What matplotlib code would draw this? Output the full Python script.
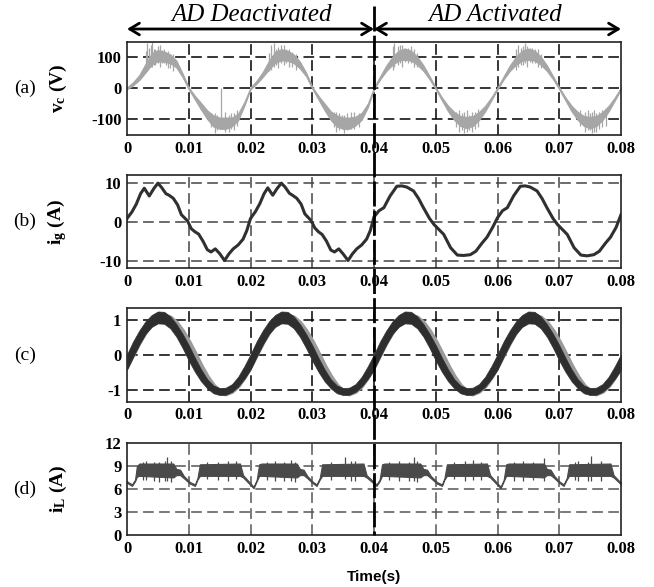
import numpy as np
import matplotlib
matplotlib.use('Agg')
import matplotlib.pyplot as plt
from matplotlib.lines import Line2D
from matplotlib.patches import FancyArrowPatch

plt.rcParams['font.family'] = 'Liberation Serif'
plt.rcParams['mathtext.fontset'] = 'custom'
plt.rcParams['mathtext.rm'] = 'Liberation Serif:bold'
plt.rcParams['mathtext.it'] = 'Liberation Serif:bold'
plt.rcParams['mathtext.bf'] = 'Liberation Serif:bold'
plt.rcParams['axes.unicode_minus'] = False

# time base in ms, one sample per ms
t_ms = np.arange(81)

# (a) capacitor voltage: band centre and half width of the switching noise
vc_mid = [0, 15, 35, 65, 95, 105, 102, 95, 78, 42,
          0, -30, -58, -85, -105, -112, -112, -108, -92, -50,
          0, 20, 45, 75, 100, 108, 105, 95, 75, 45,
          2, -30, -60, -88, -105, -112, -112, -105, -90, -55,
          0, 34, 65, 89, 105, 110, 105, 89, 65, 34,
          0, -34, -65, -89, -105, -110, -105, -89, -65, -34,
          0, 34, 65, 89, 105, 110, 105, 89, 65, 34,
          0, -34, -65, -89, -105, -110, -105, -89, -65, -34,
          0]
vc_half = [3, 5, 8, 14, 18, 18, 16, 14, 11, 6,
           3, 6, 11, 14, 18, 18, 18, 14, 11, 6,
           3, 5, 8, 14, 18, 18, 16, 14, 11, 6,
           3, 6, 11, 14, 18, 18, 18, 14, 11, 6,
           3, 5, 9, 13, 16, 18, 16, 13, 9, 5,
           3, 5, 9, 13, 16, 18, 16, 13, 9, 5,
           3, 5, 9, 13, 16, 18, 16, 13, 9, 5,
           3, 5, 9, 13, 16, 18, 16, 13, 9, 5,
           3]
vc_spike_t = [3.0, 3.2, 3.6, 3.9, 4.1, 4.4, 4.6, 5.0, 5.3, 5.7, 6.0, 6.3, 6.6, 7.0, 7.4,
              13.6, 14.2, 14.6, 15.3, 15.9, 16.5, 16.9, 17.3, 17.8,
              23.0, 23.3, 23.8, 24.2, 24.5, 25.0, 25.4, 25.8, 26.2, 26.8, 27.4,
              33.5, 33.9, 34.3, 34.8, 35.2, 35.7, 36.2, 36.8, 37.6,
              43.0, 43.3, 43.9, 44.2, 44.6, 45.0, 45.5, 46.0, 46.4, 47.0,
              53.3, 53.8, 54.2, 54.6, 55.0, 55.4, 55.9, 56.3, 56.9,
              63.0, 63.4, 63.8, 64.1, 64.5, 64.8, 65.2, 65.6, 66.0, 66.5, 67.1,
              73.4, 74.2, 74.6, 74.9, 75.3, 75.6, 76.0, 76.4, 77.0, 77.5]
vc_spike_lo = [55, 60, 65, 70, 70, 75, 75, 80, 70, 80, 80, 75, 65, 65, 55,
               -125, -145, -135, -130, -140, -140, -130, -135, -120,
               55, 60, 70, 75, 65, 80, 75, 80, 70, 70, 60,
               -125, -140, -135, -130, -145, -135, -130, -130, -125,
               60, 70, 75, 80, 70, 85, 80, 80, 70, 70,
               -125, -140, -135, -145, -140, -135, -140, -130, -125,
               60, 70, 75, 75, 80, 70, 85, 80, 80, 70, 65,
               -120, -140, -135, -135, -145, -140, -140, -130, -125, -120]
vc_spike_hi = [120, 145, 130, 138, 148, 125, 128, 135, 140, 122, 128, 118, 120, 110, 112,
               -80, -80, -85, 0, -75, -85, -80, -80, -70,
               115, 140, 145, 128, 132, 140, 138, 125, 125, 118, 110,
               -75, -75, -80, -85, -85, -80, -75, -75, -80,
               135, 145, 135, 140, 140, 130, 130, 135, 125, 115,
               -75, -70, -80, -75, -70, -85, -75, -75, -65,
               125, 140, 130, 135, 145, 135, 130, 130, 128, 125, 110,
               -70, -75, -70, -80, -75, -70, -80, -75, -70, -70]

# (b) grid current
ig_t = [0, 0.8, 1.5, 2.2, 2.8, 3.6, 4.3, 5.0, 5.6, 6.3, 6.8, 7.5, 8.2, 8.8, 9.8,
        10.4, 11.0, 11.6, 12.3, 13.0, 13.6, 14.3, 15.0, 15.8, 16.5, 17.2, 18.0, 18.8, 19.4,
        20, 20.8, 21.5, 22.2, 22.8, 23.6, 24.3, 25.0, 25.6, 26.3, 26.8, 27.5, 28.2, 28.8, 29.8,
        30.4, 31.0, 31.6, 32.3, 33.0, 33.6, 34.3, 35.0, 35.8, 36.5, 37.2, 38.0, 38.8, 39.4,
        40, 40.8, 41.6, 42.6, 43.7, 44.5, 45.3, 46.4, 47.2, 48.0, 49.0,
        49.7, 50.5, 51.3, 52.4, 53.5, 54.5, 55.6, 56.5, 57.5, 58.3, 59.2,
        60, 60.8, 61.6, 62.6, 63.7, 64.5, 65.3, 66.4, 67.2, 68.0, 69.0,
        69.7, 70.5, 71.3, 72.4, 73.5, 74.5, 75.6, 76.5, 77.5, 78.3, 79.2, 80]
ig_val = [0.8, 2.5, 4.5, 7.2, 8.6, 6.6, 8.4, 9.9, 8.8, 7.2, 6.8, 6.0, 4.3, 1.8, 0.2,
          -1.8, -2.6, -3.2, -5.0, -7.2, -7.8, -7.0, -8.2, -10.0, -8.3, -7.0, -6.0, -4.5, -2.3,
          0.8, 2.6, 4.6, 7.2, 8.7, 6.8, 8.5, 9.9, 8.9, 7.3, 6.8, 6.0, 4.5, 2.0, 0.3,
          -1.6, -2.6, -3.3, -5.0, -7.3, -7.8, -7.0, -8.3, -10.0, -8.3, -7.0, -6.0, -4.5, -2.3,
          1.2, 2.8, 3.6, 6.6, 9.1, 9.2, 8.9, 7.9, 6.0, 3.6, 0.8,
          -0.7, -2.0, -3.3, -6.7, -8.6, -8.7, -8.5, -7.6, -5.5, -4.0, -1.5,
          1.0, 2.8, 3.6, 6.6, 9.1, 9.2, 8.9, 7.9, 6.0, 3.6, 0.8,
          -0.7, -2.0, -3.3, -6.7, -8.6, -8.8, -8.5, -7.6, -5.5, -4.0, -1.5, 1.8]

# (c) normalised signals: dark band (centre, half width) and grey reference
c_mid = [-0.2, 0.17, 0.5, 0.78, 0.97, 1.07, 1.06, 0.93, 0.7, 0.4,
         0.06, -0.28, -0.58, -0.82, -0.98, -1.04, -1.03, -0.94, -0.76, -0.5] * 4 + [-0.2]
c_half = [0.22, 0.22, 0.2, 0.18, 0.17, 0.17, 0.17, 0.17, 0.18, 0.2,
          0.22, 0.2, 0.17, 0.13, 0.11, 0.1, 0.1, 0.11, 0.14, 0.18] * 4 + [0.22]
c_ref = [-0.31, 0.03, 0.37, 0.67, 0.91, 1.06, 1.1, 1.05, 0.9, 0.66,
         0.36, 0.02, -0.33, -0.64, -0.89, -1.05, -1.1, -1.03, -0.87, -0.62] * 4 + [-0.31]

# (d) inductor current envelope
il_t = [0, 0.8, 1.3, 1.6, 2.0, 7.5, 8.0, 8.6, 9.2, 10.2, 11.0, 11.4, 11.8, 18.3, 18.8,
        20.5, 21.0, 21.4, 21.8, 27.5, 28.0, 28.6, 29.2, 30.0, 30.7, 31.2, 31.6, 38.3, 38.8,
        40.4, 40.9, 41.3, 41.7, 47.5, 48.0, 48.6, 49.2, 50.2, 51.0, 51.4, 51.8, 58.3, 58.8,
        60.5, 61.0, 61.4, 61.8, 67.5, 68.0, 68.6, 69.2, 70.0, 70.7, 71.2, 71.6, 78.3, 78.8, 80]
il_lo = [6.8, 6.4, 7.0, 7.6, 7.7, 7.5, 7.8, 7.8, 7.4, 6.7, 6.4, 7.2, 7.7, 7.7, 7.5,
         6.1, 7.0, 7.7, 7.7, 7.5, 7.8, 7.8, 7.4, 6.8, 6.4, 7.2, 7.7, 7.7, 7.5,
         6.4, 7.0, 7.7, 7.7, 7.5, 7.8, 7.8, 7.4, 6.7, 6.4, 7.2, 7.7, 7.7, 7.5,
         6.1, 7.0, 7.7, 7.7, 7.5, 7.8, 7.8, 7.4, 6.8, 6.4, 7.2, 7.7, 7.7, 7.5, 6.6]
il_hi = [7.0, 6.6, 7.2, 9.0, 9.3, 9.3, 8.6, 8.5, 7.7, 6.9, 6.6, 7.4, 9.2, 9.3, 7.8,
         6.3, 7.2, 9.2, 9.3, 9.3, 8.6, 8.5, 7.7, 7.0, 6.6, 7.4, 9.2, 9.3, 7.8,
         6.6, 7.2, 9.2, 9.3, 9.3, 8.6, 8.5, 7.7, 6.9, 6.6, 7.4, 9.2, 9.3, 7.8,
         6.3, 7.2, 9.2, 9.3, 9.3, 8.6, 8.5, 7.7, 7.0, 6.6, 7.4, 9.2, 9.3, 7.8, 6.8]
il_spike_t = [2.6, 3.0, 4.4, 5.2, 6.1, 6.5, 7.1, 13.0, 14.8, 16.4, 17.6,
              22.6, 24.0, 25.5, 26.5, 27.2, 33.1, 35.3, 36.2, 37.0,
              42.5, 44.0, 45.6, 46.5, 47.0, 53.0, 54.8, 56.0, 57.4,
              62.7, 64.2, 65.8, 67.5, 72.5, 73.0, 74.6, 75.2, 76.8]
il_spike_lo = [7.2, 7.2, 7.0, 6.9, 7.1, 7.0, 6.9, 7.3, 7.2, 7.1, 7.3,
               7.2, 7.0, 7.1, 7.0, 6.9, 7.2, 7.3, 7.1, 7.0,
               7.2, 7.0, 7.1, 7.1, 6.9, 7.3, 7.1, 7.2, 7.2,
               7.1, 7.0, 7.2, 7.0, 7.2, 7.0, 7.1, 7.1, 7.0]
il_spike_hi = [9.5, 9.6, 9.5, 9.5, 9.6, 10.2, 9.6, 9.5, 9.5, 9.6, 9.6,
               9.5, 9.6, 9.5, 9.7, 9.5, 9.5, 10.2, 9.6, 9.6,
               9.5, 9.6, 9.5, 10.1, 9.6, 9.5, 9.6, 9.7, 9.5,
               9.5, 9.6, 9.5, 10.0, 9.5, 9.6, 9.5, 10.3, 9.6]

xticks = [0, 0.01, 0.02, 0.03, 0.04, 0.05, 0.06, 0.07, 0.08]
xticklabels = ['0', '0.01', '0.02', '0.03', '0.04', '0.05', '0.06', '0.07', '0.08']

W, H = 654, 587
fig = plt.figure(figsize=(W / 100, H / 100), dpi=100)
x0, x1 = 127, 621
rows = [(41.7, 135), (175, 268.3), (308.3, 401.7), (442.7, 535.3)]
axs = []
for top, bot in rows:
    axs.append(fig.add_axes([x0 / W, 1 - bot / H, (x1 - x0) / W, (bot - top) / H]))


def style(ax, ylim, yticks, ylabel, gcol):
    ax.set_xlim(0, 0.08)
    ax.set_ylim(*ylim)
    ax.set_xticks(xticks)
    ax.set_xticklabels(xticklabels)
    ax.set_yticks(yticks)
    ax.tick_params(length=0, labelsize=12, pad=4)
    for lab in ax.get_xticklabels() + ax.get_yticklabels():
        lab.set_fontweight('bold')
    for x in xticks[1:-1]:
        ax.axvline(x, color=gcol, lw=1.1, dashes=(7, 3.5), zorder=0.5)
    for y in yticks:
        if ylim[0] < y < ylim[1]:
            ax.axhline(y, color=gcol, lw=1.1, dashes=(7, 3.5), zorder=0.5)
    for s in ax.spines.values():
        s.set_linewidth(1.2)
        s.set_color('#222222')
    ax.set_ylabel(ylabel, fontsize=14, fontweight='bold')
    ax.yaxis.set_label_coords(-0.117, 0.5)


t = t_ms / 1000
ax = axs[0]
mid = np.array(vc_mid)
half = np.array(vc_half)
ax.fill_between(t, mid - half, mid + half, color='#a6a6a6', lw=0.8, zorder=2)
ax.vlines(np.array(vc_spike_t) / 1000, vc_spike_lo, vc_spike_hi, color='#a6a6a6', lw=0.9, zorder=2)
style(ax, (-150, 150), [-100, 0, 100], r'$\mathrm{v_c}$ (V)', 'black')

ax = axs[1]
ax.plot(np.array(ig_t) / 1000, ig_val, color='#303030', lw=2.2, zorder=2)
style(ax, (-12, 12), [-10, 0, 10], r'$\mathrm{i_g}$ (A)', '#444444')

ax = axs[2]
mid = np.array(c_mid)
half = np.array(c_half)
ax.plot(t, c_ref, color='#9a9a9a', lw=4, zorder=2)
ax.fill_between(t, mid - half, mid + half, color='#2e2e2e', lw=0.5, zorder=3)
style(ax, (-1.33, 1.33), [-1, 0, 1], '', 'black')

ax = axs[3]
ax.fill_between(np.array(il_t) / 1000, il_lo, il_hi, color='#4a4a4a', lw=0.8, zorder=2)
ax.vlines(np.array(il_spike_t) / 1000, il_spike_lo, il_spike_hi, color='#4a4a4a', lw=0.9, zorder=2)
style(ax, (0, 12), [0, 3, 6, 9, 12], r'$\mathrm{i_L}$ (A)', '#555555')

# panel tags
for lab, (top, bot) in zip(['(a)', '(b)', '(c)', '(d)'], rows):
    fig.text(25 / W, 1 - (top + bot) / 2 / H, lab, fontsize=14, ha='center', va='center')

fig.text((x0 + x1) / 2 / W, 1 - 577 / H, 'Time(s)', family='Liberation Sans',
         fontweight='bold', fontsize=11, ha='center', va='center')

# activation instant and region arrows
xm = (x0 + (x1 - x0) * 0.04 / 0.08) / W
fig.add_artist(Line2D([xm, xm], [1 - 6 / H, 1 - 535.3 / H], transform=fig.transFigure,
                      color='black', lw=2.0, dashes=(9, 1.5), zorder=5))
ya = 1 - 29 / H
for a, b in [(x0 / W, xm), (xm, x1 / W)]:
    fig.add_artist(FancyArrowPatch((a, ya), (b, ya), transform=fig.transFigure,
                                   arrowstyle='<->,head_length=0.5,head_width=0.3',
                                   mutation_scale=14, lw=2, color='black', shrinkA=0, shrinkB=0))
fig.text(252 / W, 1 - 15 / H, 'AD Deactivated', style='italic', fontsize=18, ha='center', va='center')
fig.text(495 / W, 1 - 15 / H, 'AD Activated', style='italic', fontsize=18, ha='center', va='center')

fig.savefig('out.png', dpi=100)
